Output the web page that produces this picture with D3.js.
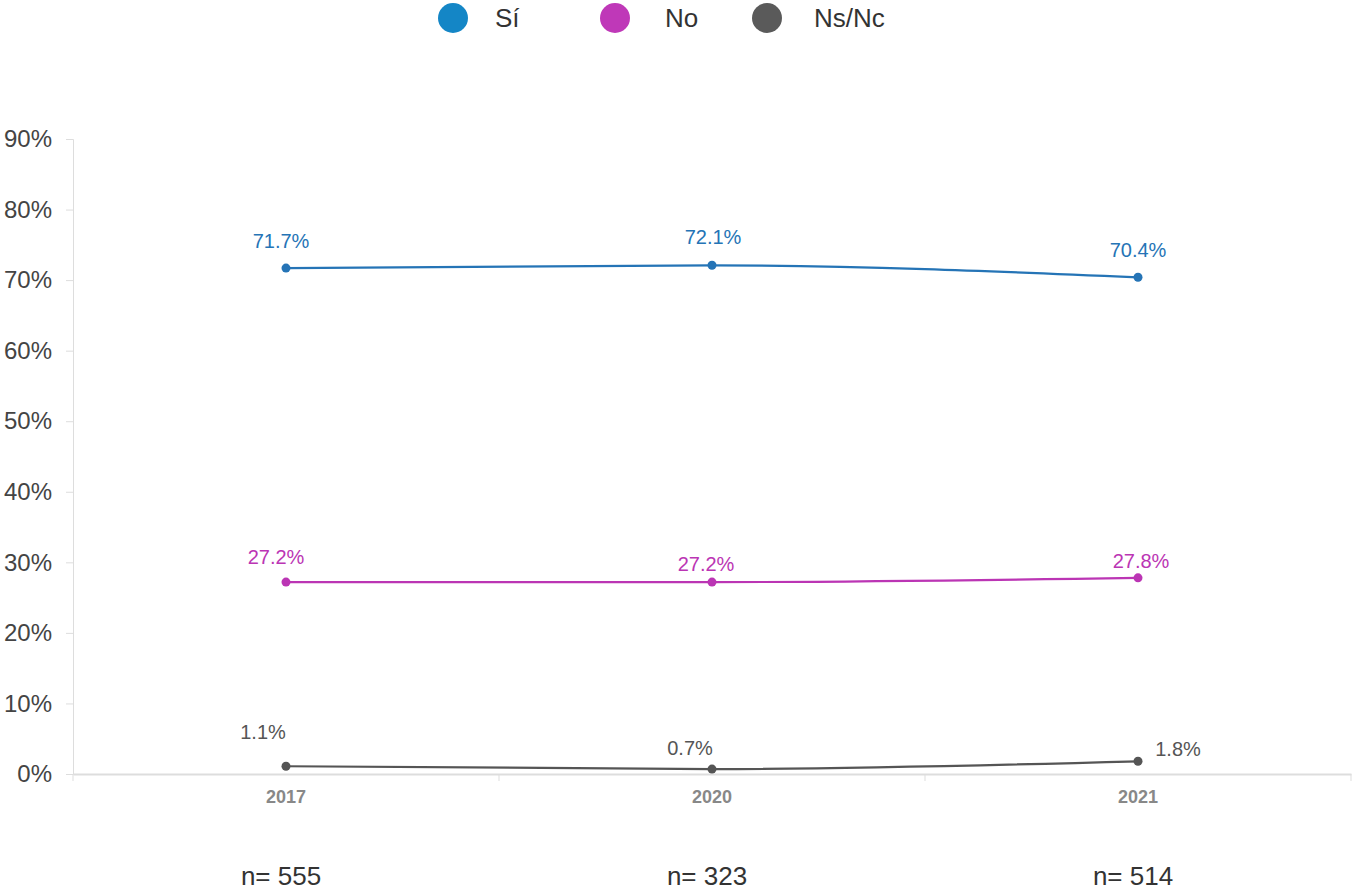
<!DOCTYPE html>
<html>
<head>
<meta charset="utf-8">
<script src="https://cdn.jsdelivr.net/npm/d3@7/dist/d3.min.js"></script>
<style>
  body { margin: 0; background: #fff; font-family: "Liberation Sans", Arial, sans-serif; }
</style>
</head>
<body>
<div id="chart"></div>
<script>
// Data
const years = ['2017', '2020', '2021'];
const sampleSizes = ['n= 555', 'n= 323', 'n= 514'];
const seriesNames = ['Sí', 'No', 'Ns/Nc'];
const siValues = [71.7, 72.1, 70.4];
const noValues = [27.2, 27.2, 27.8];
const nsncValues = [1.1, 0.7, 1.8];
const yTicks = [0, 10, 20, 30, 40, 50, 60, 70, 80, 90];

// style
const lineColors = ['#2574b6', '#bb35b4', '#555555'];
const legendColors = ['#1486c6', '#bf38b8', '#5a5a5a'];
// label nudges per point (dx, dy) so they don't collide
const labelNudge = [
  [[-5, -27], [1, -28], [0, -27]],
  [[-10, -25], [-6, -18], [3, -17]],
  [[-23, -34], [-22, -21], [40, -12]]
];

const W = 1352, H = 890;
const margin = { top: 139, right: 1, bottom: 116, left: 73 };

const svg = d3.select('#chart').append('svg')
  .attr('width', W).attr('height', H);

const x = d3.scaleBand()
  .domain(years)
  .range([margin.left, W - margin.right]);

const y = d3.scaleLinear()
  .domain([0, 90])
  .range([H - margin.bottom, margin.top]);

// Y axis
const yAxis = svg.append('g')
  .attr('transform', `translate(${margin.left},0)`)
  .call(d3.axisLeft(y).tickValues(yTicks).tickFormat(d => d + '%').tickSize(7).tickPadding(14));
yAxis.select('.domain').attr('stroke', '#dddddd');
yAxis.selectAll('line').attr('stroke', '#dddddd');
yAxis.selectAll('text')
  .attr('fill', '#444').style('font-size', '24px')
  .style('font-family', '"Liberation Sans", Arial, sans-serif');

// X axis
const xAxis = svg.append('g')
  .attr('transform', `translate(0,${y(0)})`)
  .call(d3.axisBottom(x).tickSize(0).tickPadding(16));
xAxis.select('.domain').attr('stroke', '#dddddd').attr('stroke-width', 2);
xAxis.selectAll('text')
  .attr('fill', '#888').style('font-size', '18px').style('font-weight', 'bold')
  .style('font-family', '"Liberation Sans", Arial, sans-serif');

// band boundary ticks
svg.append('g').selectAll('line')
  .data(years.map(d => x(d)).concat([x.range()[1]]))
  .enter().append('line')
  .attr('x1', d => d).attr('x2', d => d)
  .attr('y1', y(0)).attr('y2', y(0) + 7)
  .attr('stroke', '#dddddd');

const cx = d => x(d) + x.bandwidth() / 2;

const allSeries = [siValues, noValues, nsncValues];

const line = d3.line()
  .x((d, i) => cx(years[i]))
  .y(d => y(d))
  .curve(d3.curveMonotoneX);

allSeries.forEach((vals, s) => {
  const g = svg.append('g');
  g.append('path')
    .datum(vals)
    .attr('d', line)
    .attr('fill', 'none')
    .attr('stroke', lineColors[s])
    .attr('stroke-width', 2.2);

  g.selectAll('circle')
    .data(vals)
    .enter().append('circle')
    .attr('cx', (d, i) => cx(years[i]))
    .attr('cy', d => y(d))
    .attr('r', 4.5)
    .attr('fill', lineColors[s]);

  g.selectAll('text')
    .data(vals)
    .enter().append('text')
    .attr('x', (d, i) => cx(years[i]) + labelNudge[s][i][0])
    .attr('y', (d, i) => y(d) + labelNudge[s][i][1])
    .attr('dy', '0.35em')
    .attr('text-anchor', 'middle')
    .attr('fill', lineColors[s])
    .style('font-size', '20px')
    .text(d => d.toFixed(1) + '%');
});

// sample sizes under the axis
svg.append('g').selectAll('text')
  .data(sampleSizes)
  .enter().append('text')
  .attr('x', (d, i) => cx(years[i]) - 5)
  .attr('y', 885)
  .attr('text-anchor', 'middle')
  .attr('fill', '#333')
  .style('font-size', '26px')
  .text(d => d);

// Legend
const legendX = [453, 615, 767];
const legendTextDx = [42, 50, 47];
const legend = svg.append('g').selectAll('g')
  .data(seriesNames)
  .enter().append('g')
  .attr('transform', (d, i) => `translate(${legendX[i]},18)`);
legend.append('circle')
  .attr('r', 15)
  .attr('fill', (d, i) => legendColors[i]);
legend.append('text')
  .attr('x', (d, i) => legendTextDx[i])
  .attr('dy', '0.35em')
  .attr('fill', '#333')
  .style('font-size', '26px')
  .text(d => d);
</script>
</body>
</html>
